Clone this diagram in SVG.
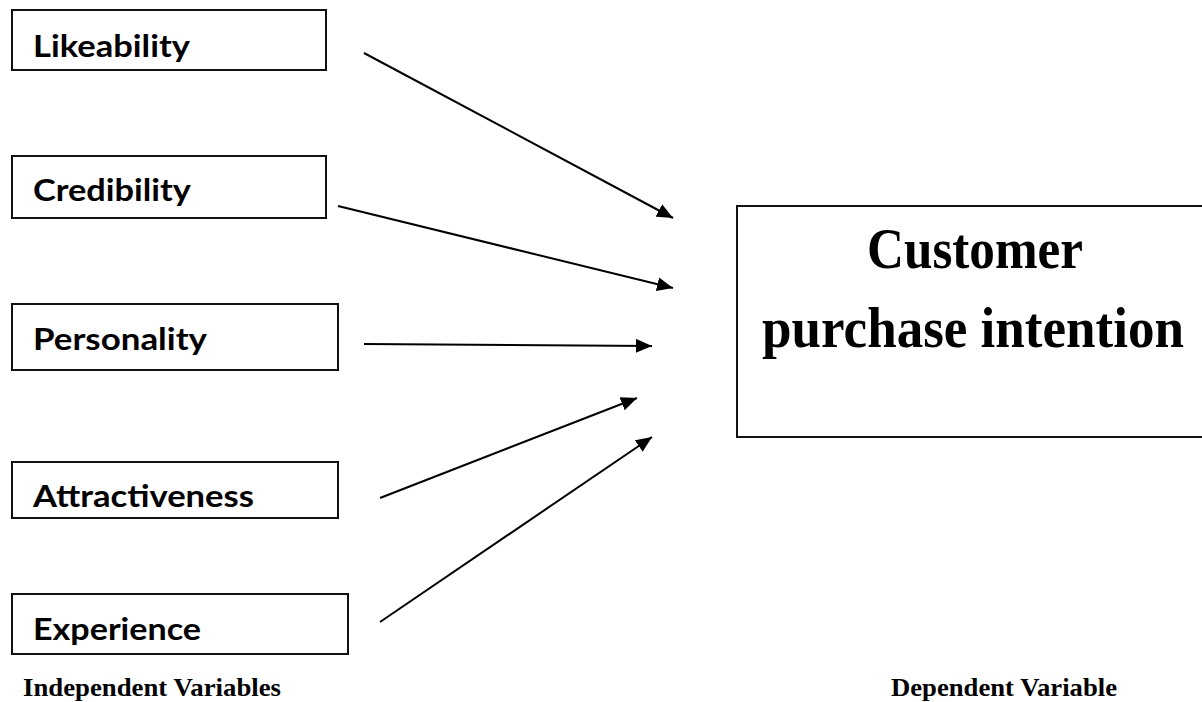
<svg xmlns="http://www.w3.org/2000/svg" width="1202" height="702" viewBox="0 0 1202 702">
<style>
.box{fill:#fff;stroke:#111;stroke-width:2}
.lbl{font-family:Lato,"Open Sans","Liberation Sans",sans-serif;font-weight:bold;font-size:30px;fill:#000}
.big{font-family:"Liberation Serif","Times New Roman",serif;font-weight:bold;font-size:56px;fill:#000;text-anchor:middle}
.cap{font-family:"Liberation Serif","Times New Roman",serif;font-weight:bold;font-size:26px;fill:#000}
.conn line{stroke:#000;stroke-width:2;marker-end:url(#ah)}
</style>
<defs>
<marker id="ah" markerUnits="userSpaceOnUse" markerWidth="18" markerHeight="14" refX="16" refY="7" orient="auto">
<path d="M0,0 L16,7 L0,14 Z" fill="#000"/>
</marker>
</defs>
<rect width="1202" height="702" fill="#fff"/>
<g id="likeability"><rect class="box" x="12" y="10" width="314" height="60"/><text class="lbl" x="33" y="57" textLength="157" lengthAdjust="spacingAndGlyphs">Likeability</text></g>
<g id="credibility"><rect class="box" x="12" y="156" width="314" height="62"/><text class="lbl" x="33" y="201" textLength="158" lengthAdjust="spacingAndGlyphs">Credibility</text></g>
<g id="personality"><rect class="box" x="12" y="304" width="326" height="66"/><text class="lbl" x="33" y="350" textLength="174" lengthAdjust="spacingAndGlyphs">Personality</text></g>
<g id="attractiveness"><rect class="box" x="12" y="462" width="326" height="56"/><text class="lbl" x="33" y="507" textLength="221" lengthAdjust="spacingAndGlyphs">Attractiveness</text></g>
<g id="experience"><rect class="box" x="12" y="594" width="336" height="60"/><text class="lbl" x="33" y="640" textLength="168" lengthAdjust="spacingAndGlyphs">Experience</text></g>
<g id="purchase-intention"><rect class="box" x="737" y="206" width="480" height="231"/>
<text class="big" x="975" y="268" textLength="216" lengthAdjust="spacingAndGlyphs">Customer</text>
<text class="big" x="973" y="347" textLength="422" lengthAdjust="spacingAndGlyphs">purchase intention</text></g>
<g class="conn" id="connectors">
<line x1="364" y1="53" x2="673" y2="218"/>
<line x1="338" y1="206" x2="673" y2="288"/>
<line x1="364" y1="344" x2="652" y2="346"/>
<line x1="380" y1="498" x2="637" y2="398"/>
<line x1="380" y1="622" x2="652" y2="437"/>
</g>
<g id="captions">
<text class="cap" x="23" y="696" textLength="258" lengthAdjust="spacingAndGlyphs">Independent Variables</text>
<text class="cap" x="891" y="696" textLength="226" lengthAdjust="spacingAndGlyphs">Dependent Variable</text>
</g>
</svg>
